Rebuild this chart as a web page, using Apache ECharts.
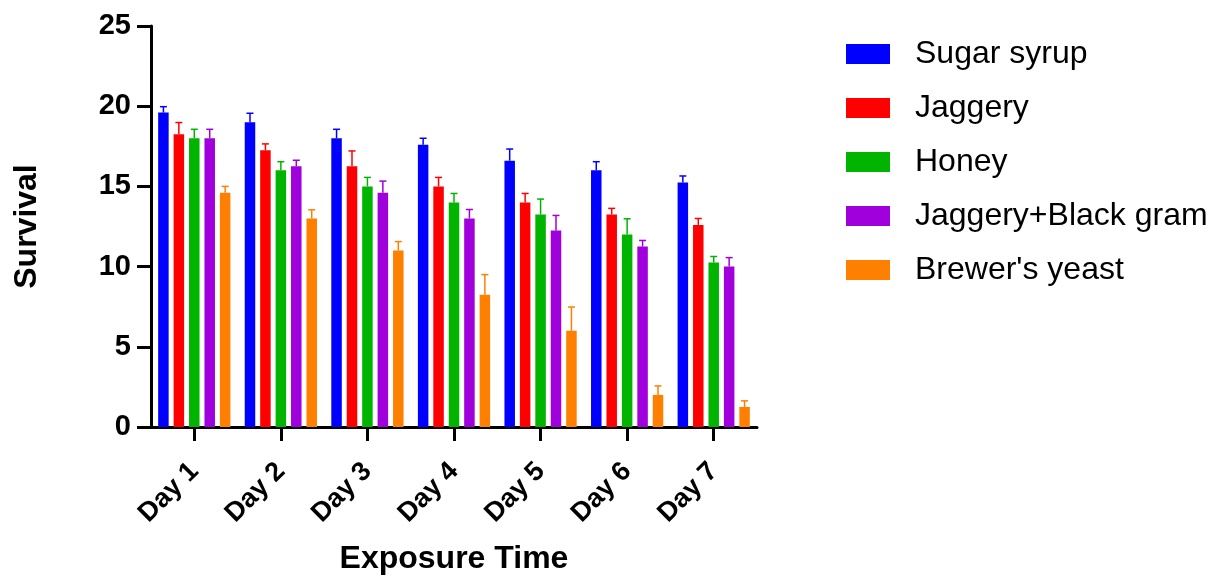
<!DOCTYPE html>
<html>
<head>
<meta charset="utf-8">
<script src="https://cdn.jsdelivr.net/npm/echarts@6/dist/echarts.min.js"></script>
<style>html,body{margin:0;padding:0;background:#fff;}#chart{width:1221px;height:578px;}</style>
</head>
<body>
<div id="chart"></div>
<script>
const categories = ['Day 1', 'Day 2', 'Day 3', 'Day 4', 'Day 5', 'Day 6', 'Day 7'];
const seriesNames = ['Sugar syrup', 'Jaggery', 'Honey', 'Jaggery+Black gram', "Brewer's yeast"];
const sugarSyrup = [19.6, 19.0, 18.0, 17.6, 16.6, 16.0, 15.25];
const sugarSyrupErr = [0.37, 0.56, 0.56, 0.4, 0.73, 0.54, 0.4];
const jaggery = [18.25, 17.25, 16.25, 15.0, 14.0, 13.25, 12.6];
const jaggeryErr = [0.73, 0.4, 0.96, 0.56, 0.56, 0.38, 0.4];
const honey = [18.0, 16.0, 15.0, 14.0, 13.25, 12.0, 10.25];
const honeyErr = [0.56, 0.54, 0.56, 0.56, 0.96, 0.98, 0.38];
const jaggeryBlackGram = [18.0, 16.25, 14.6, 13.0, 12.25, 11.25, 10.0];
const jaggeryBlackGramErr = [0.56, 0.38, 0.73, 0.56, 0.94, 0.38, 0.56];
const brewersYeast = [14.6, 13.0, 11.0, 8.25, 6.0, 2.0, 1.25];
const brewersYeastErr = [0.4, 0.54, 0.56, 1.25, 1.48, 0.56, 0.38];
const yTicks = [0, 5, 10, 15, 20, 25];

const colors = ['#0000FF', '#FF0000', '#00B400', '#A000DC', '#FF8000'];
const values = [sugarSyrup, jaggery, honey, jaggeryBlackGram, brewersYeast];
const errors = [sugarSyrupErr, jaggeryErr, honeyErr, jaggeryBlackGramErr, brewersYeastErr];

const BAR_W = 10.5;
const BAR_GAP = 0.47;
const FONT = "'Liberation Sans', Arial, sans-serif";

const series = [];
values.forEach((vals, k) => {
  series.push({
    type: 'bar', name: seriesNames[k], data: vals,
    barWidth: BAR_W, barGap: (BAR_GAP * 100) + '%',
    itemStyle: { color: colors[k] }, z: 2
  });
});
values.forEach((vals, k) => {
  series.push({
    type: 'custom', name: seriesNames[k], silent: true, z: 3,
    encode: { x: 0, y: 1 },
    data: vals.map((v, i) => [i, v, errors[k][i]]),
    renderItem: function (params, api) {
      const i = api.value(0), v = api.value(1), e = api.value(2);
      const base = api.coord([i, v]);
      const top = api.coord([i, v + e]);
      const x = base[0] + (k - 2) * BAR_W * (1 + BAR_GAP);
      const st = { stroke: colors[k], lineWidth: 1.5 };
      return { type: 'group', children: [
        { type: 'line', shape: { x1: x, y1: base[1], x2: x, y2: top[1] }, style: st },
        { type: 'line', shape: { x1: x - 3.5, y1: top[1], x2: x + 3.5, y2: top[1] }, style: st }
      ]};
    }
  });
});

const chart = echarts.init(document.getElementById('chart'));
chart.setOption({
  animation: false,
  backgroundColor: '#fff',
  textStyle: { fontFamily: FONT },
  grid: { left: 151, right: 464, top: 26, bottom: 151, containLabel: false, outerBoundsMode: 'none' },
  legend: {
    data: seriesNames, orient: 'vertical', left: 841, top: 33,
    itemWidth: 44, itemHeight: 20, itemGap: 22, icon: 'rect',
    textStyle: { fontSize: 32, color: '#000', fontFamily: FONT, lineHeight: 20, padding: [0, 0, 0, 20] }
  },
  xAxis: {
    type: 'category', data: categories,
    name: 'Exposure Time', nameLocation: 'middle', nameGap: 116,
    nameTextStyle: { fontSize: 32, fontWeight: 'bold', color: '#000', fontFamily: FONT },
    axisLine: { show: true, lineStyle: { color: '#000', width: 3 } },
    axisTick: { show: true, alignWithLabel: true, length: 14, lineStyle: { color: '#000', width: 3 } },
    axisLabel: { rotate: 45, margin: 40, fontSize: 27, fontWeight: 'bold', color: '#000', fontFamily: FONT, interval: 0 },
    splitLine: { show: false }
  },
  yAxis: {
    type: 'value', min: 0, max: 25, interval: 5,
    name: 'Survival', nameLocation: 'middle', nameGap: 108,
    nameTextStyle: { fontSize: 32, fontWeight: 'bold', color: '#000', fontFamily: FONT },
    axisLine: { show: true, lineStyle: { color: '#000', width: 3 } },
    axisTick: { show: true, length: 14, lineStyle: { color: '#000', width: 3 } },
    axisLabel: { margin: 20, fontSize: 29, fontWeight: 'bold', color: '#000', fontFamily: FONT,
      formatter: v => yTicks.includes(v) ? String(v) : '' },
    splitLine: { show: false }
  },
  series: series
});
</script>
</body>
</html>
